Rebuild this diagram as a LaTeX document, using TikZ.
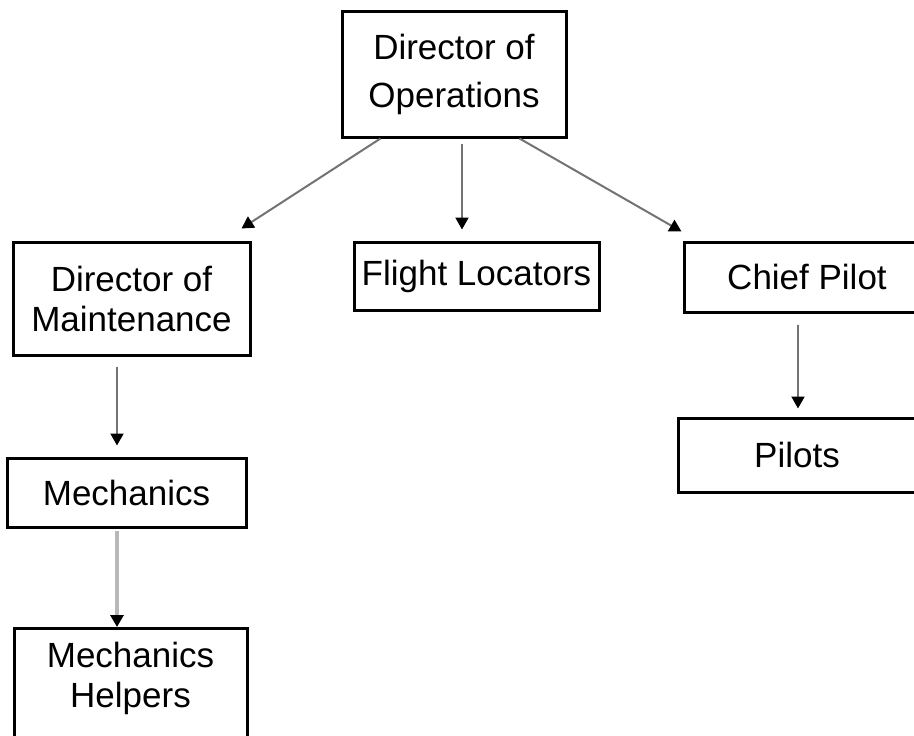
\documentclass[tikz,border=0pt]{standalone}
\usepackage{fontspec}
\setmainfont{Liberation Sans}
\usetikzlibrary{arrows.meta}
\begin{document}
\begin{tikzpicture}[x=1pt,y=-1pt,
  box/.style={draw=black,line width=3pt,fill=white,align=center,inner sep=0pt,
    font=\fontsize{35}{40}\selectfont},
  arr/.style={draw=black!55,line width=2pt,-{Triangle[length=12pt,width=13pt,color=black]}},
  arrlight/.style={draw=black!28,line width=4pt,-{Triangle[length=12pt,width=13pt,color=black]}},
  lbl/.style={align=center,inner sep=0pt,font=\fontsize{35}{40}\selectfont}]
\useasboundingbox (0,0) rectangle (914,736);
\clip (0,0) rectangle (914,736);
\fill[white] (0,0) rectangle (914,736);

\node[box,minimum width=224pt,minimum height=126pt] (doo) at (454,74) {Director of\\[8pt]Operations};
\node[box,minimum width=237pt,minimum height=113pt] (dom) at (131.5,298.5) {Director of\\Maintenance};
\node[box,minimum width=245pt,minimum height=68pt] (fl) at (476.5,276) {Flight Locators};
\node[box,minimum width=246pt,minimum height=70pt] (cp) at (807,277) {Chief Pilot};
\node[box,minimum width=238pt,minimum height=74pt] (pil) at (797,455) {Pilots};
\node[box,minimum width=239pt,minimum height=69pt] (mech) at (126.5,492.5) {Mechanics};
\node[box,minimum width=233pt,minimum height=130pt,anchor=north] (mh) at (130.5,627) {};
\node[lbl] (mhtext) at (130.5,678) {Mechanics\\Helpers};

\draw[arr] ([xshift=40pt]doo.south west) -- ([xshift=-10pt,yshift=12pt]dom.north east);
\draw[arr] ([xshift=8pt,yshift=-5pt]doo.south) -- ([xshift=-14.5pt,yshift=11pt]fl.north);
\draw[arr] ([xshift=-48pt]doo.south east) -- ([xshift=-1pt,yshift=9pt]cp.north west);
\draw[arr] ([xshift=-14.5pt,yshift=-10pt]dom.south) -- ([xshift=-9.5pt,yshift=11pt]mech.north);
\draw[arrlight] ([xshift=-9.5pt,yshift=-2pt]mech.south) -- ([xshift=-13.5pt]mh.north);
\draw[arr] ([xshift=-9pt,yshift=-11pt]cp.south) -- ([xshift=1pt,yshift=8pt]pil.north);
\end{tikzpicture}
\end{document}
